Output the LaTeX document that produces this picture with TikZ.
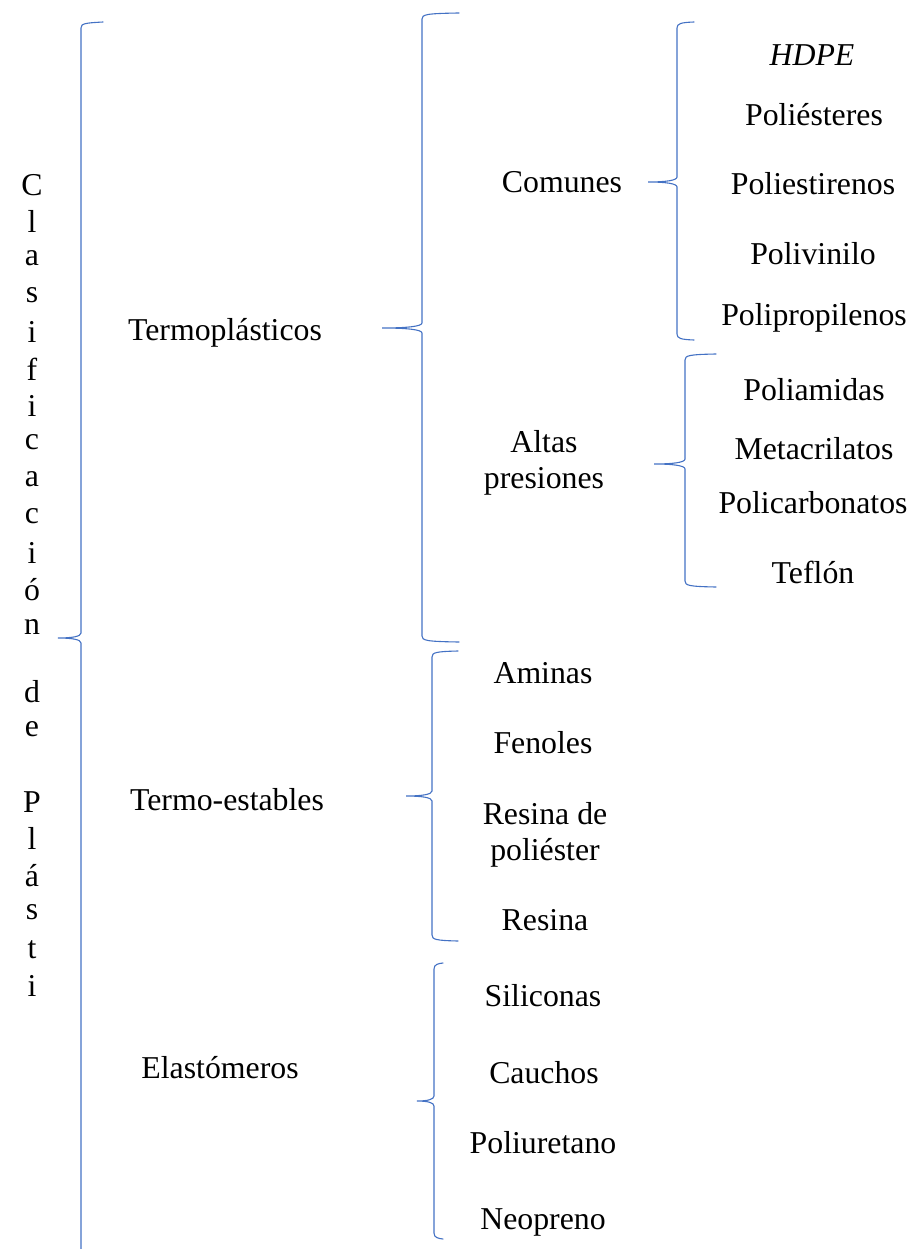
\documentclass[tikz,border=0pt]{standalone}
\usepackage{fontspec}
\setmainfont{Liberation Serif}
\definecolor{bl}{HTML}{4472C4}
\tikzset{
  br/.style={draw=bl, line width=1.1pt, line cap=round},
  lbl/.style={font=\fontsize{31.8}{36.6}\selectfont, inner sep=0pt, align=center},
  vch/.style={font=\fontsize{31.8}{36.6}\selectfont, inner sep=0pt}
}
% x, top, tip y, bottom, tip x, end x
\newcommand\mybrace[6]{%
  \draw[br] (#6,{#2-3}) .. controls ({#1+4},{#2-2.5}) and (#1,{#2-1.5}) .. (#1,{#2+3})
    -- (#1,{#3-5}) .. controls (#1,{#3-1.5}) and ({#1-0.4*(#1-#5)},#3) .. (#5,#3)
    .. controls ({#1-0.4*(#1-#5)},#3) and (#1,{#3+1.5}) .. (#1,{#3+5})
    -- (#1,{#4-3}) .. controls (#1,{#4+1.5}) and ({#1+4},{#4+2.5}) .. (#6,{#4+3});}
\begin{document}
\begin{tikzpicture}[x=1pt,y=-1pt]
\clip (0,0) rectangle (912,1249);
% braces
\draw[br] (103,22) .. controls (85,23) and (81,23.5) .. (81,28) -- (81,633)
  .. controls (81,636.5) and (72,638) .. (58,638) .. controls (72,638) and (81,639.5) .. (81,643) -- (81,1260);
\mybrace{422}{16}{328}{639}{382}{459}
\mybrace{677}{25}{182}{337}{648}{694}
\mybrace{685}{357}{464}{584}{654}{716}
\mybrace{432}{654}{796}{938}{406}{458}
\mybrace{434}{966}{1101}{1236}{417}{443}
% vertical title
\foreach \ch [count=\i] in {C,l,a,s,i,f,i,c,a,c,i,ó,n}
  \node[vch] (v\i) at (32,{185+(\i-1)*36.8}) {\ch};
\node[vch] (vd) at (32,692) {d};
\node[vch] (ve) at (32,729) {e};
\foreach \ch [count=\i] in {P,l,á,s,t,i}
  \node[vch] (w\i) at (32,{802+(\i-1)*36.8}) {\ch};
% level 1
\node[lbl] (tp) at (225,333) {Termoplásticos};
\node[lbl] (te) at (227,800) {Termo-estables};
\node[lbl] (el) at (220,1068) {Elastómeros};
% level 2
\node[lbl] (com) at (562,182) {Comunes};
\node[lbl] (alt) at (544,463) {Altas\\presiones};
\node[lbl] (ami) at (543,673) {Aminas};
\node[lbl] (fen) at (543,743) {Fenoles};
\node[lbl] (res) at (545,835) {Resina de\\poliéster};
\node[lbl] (rsn) at (545,920) {Resina};
\node[lbl] (sil) at (543,996) {Siliconas};
\node[lbl] (cau) at (544,1073) {Cauchos};
\node[lbl] (pur) at (543,1143) {Poliuretano};
\node[lbl] (neo) at (543,1222) {Neopreno};
% level 3
\node[lbl] (hdpe) at (812,55) {\itshape HDPE};
\node[lbl] (pes) at (814,115) {Poliésteres};
\node[lbl] (pst) at (813,184) {Poliestirenos};
\node[lbl] (pvi) at (813,254) {Polivinilo};
\node[lbl] (ppr) at (814,318) {Polipropilenos};
\node[lbl] (pam) at (814,390) {Poliamidas};
\node[lbl] (met) at (814,449) {Metacrilatos};
\node[lbl] (pca) at (813,503) {Policarbonatos};
\node[lbl] (tef) at (813,572) {Teflón};
\end{tikzpicture}
\end{document}
